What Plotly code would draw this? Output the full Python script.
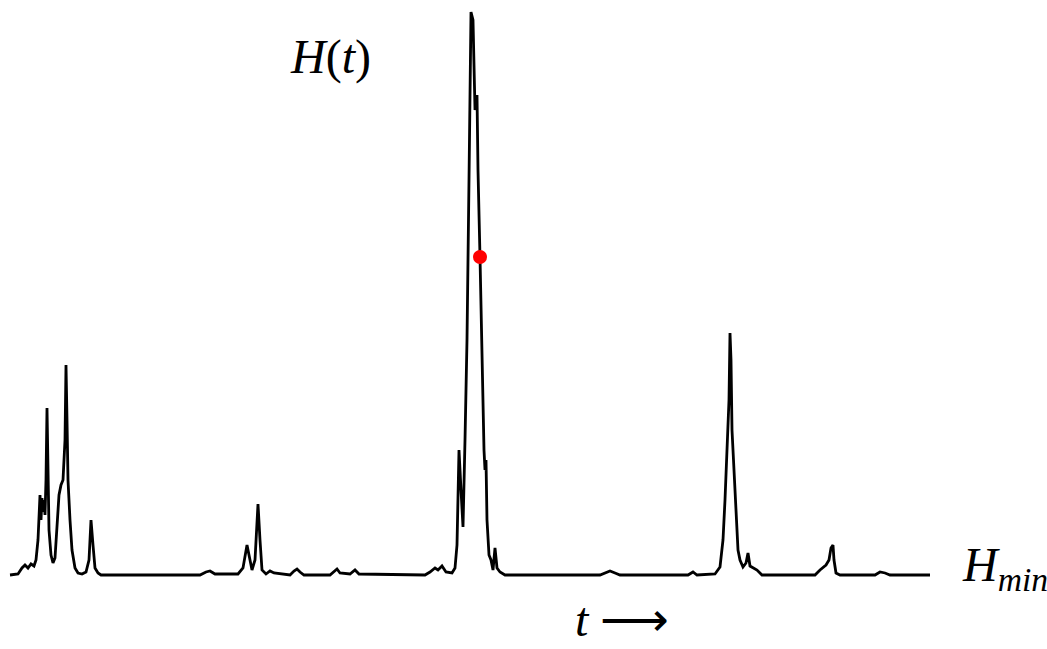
import plotly.graph_objects as go

# time (arbitrary units) and H(t) above H_min
t = [0, 0.8, 1.2, 1.5, 1.8, 2.1, 2.4, 2.6, 2.8, 2.9, 3.0, 3.1, 3.2, 3.3, 3.4, 3.5, 3.6, 3.7, 3.8, 3.9,
     4.1, 4.3, 4.5, 4.7, 4.9, 5.1, 5.3, 5.5, 5.6, 5.7, 5.8, 6.0, 6.2, 6.5, 6.8, 7.2, 7.6, 7.9, 8.1, 8.3,
     8.5, 8.8, 9.1, 19.0, 19.6, 20.0, 20.5, 22.8, 23.3, 23.7, 23.9, 24.2, 24.5, 24.8, 25.0, 25.2, 25.6,
     26.0, 26.4, 28.0, 28.4, 28.7, 29.0, 29.4, 32.0, 32.4, 32.7, 33.0, 34.0, 34.5, 34.9, 41.5, 42.0,
     42.5, 42.8, 43.2, 43.6, 44.2, 44.5, 44.7, 44.9, 45.1, 45.3, 45.5, 45.7, 45.9, 46.1, 46.3, 46.5,
     46.7, 46.8, 47.0, 47.2, 47.4, 47.5, 47.6, 47.7, 47.9, 48.1, 48.3, 48.5, 48.7, 49.0, 49.5, 59.0,
     59.5, 60.0, 60.5, 61.0, 67.8, 68.3, 68.7, 70.5, 71.0, 71.3, 71.5, 71.7, 71.9, 72.0, 72.1, 72.2,
     72.4, 72.6, 72.8, 73.0, 73.3, 73.6, 73.8, 74.0, 74.3, 74.7, 75.2, 80.5, 81.0, 81.3, 81.6, 81.9,
     82.1, 82.3, 82.4, 82.6, 83.0, 86.5, 87.0, 87.5, 88.0, 92.0]
H = [0, 0.02, 0.14, 0.2, 0.14, 0.22, 0.18, 0.3, 0.7, 1.3, 1.6, 1.1, 1.54, 1.26, 1.5, 1.2, 1.9, 3.34, 2.1, 0.9,
     0.4, 0.24, 0.34, 0.9, 1.6, 1.8, 1.9, 2.7, 4.2, 3.1, 1.9, 1.1, 0.5, 0.14, 0.04, 0.02, 0.06, 0.3, 1.1, 0.6,
     0.14, 0.04, 0, 0, 0.06, 0.08, 0.02, 0.02, 0.14, 0.6, 0.4, 0.1, 0.3, 1.42, 0.7, 0.1, 0.02,
     0.08, 0.04, 0, 0.08, 0.12, 0.06, 0, 0, 0.08, 0.12, 0.04, 0.02, 0.1, 0.02, 0, 0.06,
     0.14, 0.1, 0.18, 0.06, 0.04, 0.14, 0.6, 2.5, 1.7, 0.96, 2.7, 4.7, 7.9, 11.26, 11.1, 9.3,
     9.6, 8.1, 6.36, 4.3, 2.5, 2.1, 2.3, 1.1, 0.4, 0.3, 0.1, 0.54, 0.14, 0.06, 0, 0,
     0.04, 0.08, 0.04, 0, 0, 0.06, 0, 0.02, 0.16, 0.7, 1.5, 2.44, 3.5, 4.84, 4.3, 2.9,
     2.1, 1.1, 0.5, 0.3, 0.16, 0.24, 0.44, 0.18, 0.14, 0.1, 0, 0, 0.1, 0.16, 0.2, 0.3,
     0.54, 0.6, 0.3, 0.04, 0, 0, 0.06, 0.04, 0, 0]

marker_t = [47.0]
marker_H = [6.36]

label_top = "<i>H</i>(<i>t</i>)"
label_right = "<i>H</i><sub><i>min</i></sub>"
label_bottom = "<i>t</i> ⟶"

fig = go.Figure()
fig.add_trace(go.Scatter(x=t, y=H, mode="lines",
                         line=dict(color="black", width=2.8), hoverinfo="skip"))
fig.add_trace(go.Scatter(x=marker_t, y=marker_H, mode="markers",
                         marker=dict(color="red", size=14), hoverinfo="skip"))

font = dict(family="Liberation Serif", size=48, color="black")
fig.add_annotation(text=label_top, x=0.316, y=0.912, xref="paper", yref="paper",
                   showarrow=False, font=font, xanchor="center", yanchor="middle")
fig.add_annotation(text=label_right, x=0.917, y=0.125, xref="paper", yref="paper",
                   showarrow=False, font=font, xanchor="left", yanchor="middle")
fig.add_annotation(text=label_bottom, x=0.594, y=0.045, xref="paper", yref="paper",
                   showarrow=False, font=font, xanchor="center", yanchor="middle")

fig.update_layout(
    width=1047, height=649,
    margin=dict(l=0, r=0, t=0, b=0),
    paper_bgcolor="white", plot_bgcolor="white",
    showlegend=False,
    xaxis=dict(range=[-1, 103.7], visible=False),
    yaxis=dict(range=[-1.48, 11.5], visible=False),
)

fig.write_html("out.html")
